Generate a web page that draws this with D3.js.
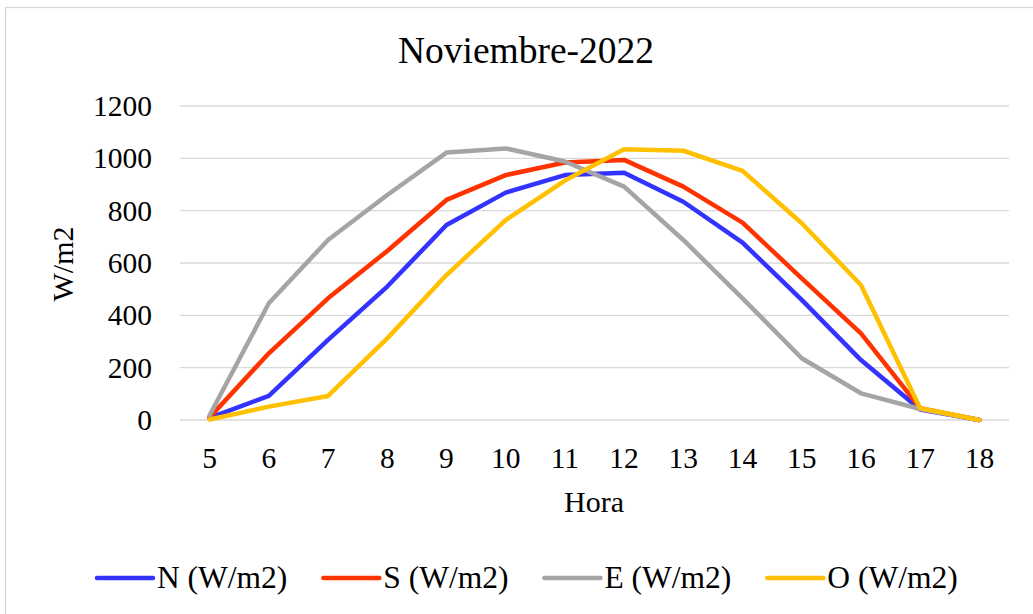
<!DOCTYPE html>
<html>
<head>
<meta charset="utf-8">
<script src="https://cdn.jsdelivr.net/npm/d3@7"></script>
<style>
  html, body { margin: 0; padding: 0; background: #fff; }
  svg { display: block; }
  text { font-family: "Liberation Serif", "Times New Roman", serif; fill: #000; }
</style>
</head>
<body>
<svg id="chart" width="1033" height="614"></svg>
<script>
const title = "Noviembre-2022";
const xTitle = "Hora";
const yTitle = "W/m2";
const hours = [5, 6, 7, 8, 9, 10, 11, 12, 13, 14, 15, 16, 17, 18];
const yTicks = [0, 200, 400, 600, 800, 1000, 1200];
const seriesNames = ["N (W/m2)", "S (W/m2)", "E (W/m2)", "O (W/m2)"];
const seriesColors = ["#3333ff", "#ff3300", "#a5a5a5", "#ffc000"];
const valuesN = [8, 92, 306, 510, 745, 869, 936, 945, 834, 678, 459, 229, 40, 0];
const valuesS = [10, 255, 465, 646, 841, 936, 984, 994, 892, 754, 541, 331, 45, 0];
const valuesE = [18, 446, 688, 860, 1022, 1038, 988, 892, 688, 465, 236, 102, 42, 0];
const valuesO = [2, 51, 92, 312, 554, 764, 915, 1035, 1029, 952, 752, 516, 45, 0];
const allSeries = [valuesN, valuesS, valuesE, valuesO];

const svg = d3.select("#chart");

// chart border
svg.append("rect")
  .attr("x", 5.5).attr("y", 7.5)
  .attr("width", 1040).attr("height", 620)
  .attr("fill", "none").attr("stroke", "#d9d9d9").attr("stroke-width", 1.3);

const plot = { left: 180, right: 1009, top: 106, bottom: 420 };

const x = d3.scaleBand().domain(hours).range([plot.left, plot.right]).padding(0);
const y = d3.scaleLinear().domain([0, 1200]).range([plot.bottom, plot.top]);
const cx = h => x(h) + x.bandwidth() / 2;

// gridlines
svg.append("g").selectAll("line").data(yTicks).join("line")
  .attr("x1", plot.left).attr("x2", plot.right)
  .attr("y1", d => y(d)).attr("y2", d => y(d))
  .attr("stroke", "#d9d9d9").attr("stroke-width", 1.3);

// y axis labels
const yAxis = d3.axisLeft(y).tickValues(yTicks).tickFormat(d3.format("d")).tickSize(0).tickPadding(28);
const gy = svg.append("g").attr("transform", `translate(${plot.left},0)`).call(yAxis);
gy.attr("font-family", null);
gy.select(".domain").remove();
gy.selectAll("text")
  .style("font-family", "'Liberation Serif', serif")
  .style("font-size", "29.5px").attr("fill", "#000");

// x axis labels
const xAxis = d3.axisBottom(x).tickSize(0).tickPadding(0);
const gx = svg.append("g").attr("transform", `translate(0,${plot.bottom})`).call(xAxis);
gx.attr("font-family", null);
gx.select(".domain").remove();
gx.selectAll("text")
  .attr("dy", null).attr("y", 48)
  .style("font-family", "'Liberation Serif', serif")
  .style("font-size", "29.5px").attr("fill", "#000");

// lines
const line = d3.line().x((d, i) => cx(hours[i])).y(d => y(d));
svg.append("g").selectAll("path").data(allSeries).join("path")
  .attr("d", d => line(d))
  .attr("fill", "none")
  .attr("stroke", (d, i) => seriesColors[i])
  .attr("stroke-width", 4.5)
  .attr("stroke-linejoin", "round")
  .attr("stroke-linecap", "round");

// title
svg.append("text").attr("x", 526).attr("y", 63)
  .attr("text-anchor", "middle").style("font-size", "37.5px").text(title);

// axis titles
svg.append("text").attr("x", 594).attr("y", 512)
  .attr("text-anchor", "middle").style("font-size", "30px").text(xTitle);
svg.append("text").attr("transform", "translate(73,264) rotate(-90)")
  .attr("text-anchor", "middle").style("font-size", "30px").text(yTitle);

// legend
const legend = svg.append("g");
const items = legend.selectAll("g").data(seriesNames).join("g");
items.append("line")
  .attr("x1", 0).attr("x2", 56).attr("y1", 0).attr("y2", 0)
  .attr("stroke", (d, i) => seriesColors[i])
  .attr("stroke-width", 4.5).attr("stroke-linecap", "round");
items.append("text").attr("x", 60).attr("y", 10)
  .style("font-size", "31.5px").text(d => d);
let pos = 97;
items.each(function () {
  const g = d3.select(this);
  const w = 60 + g.select("text").node().getComputedTextLength();
  g.attr("transform", `translate(${pos},578)`);
  pos += w + 36;
});
</script>
</body>
</html>
